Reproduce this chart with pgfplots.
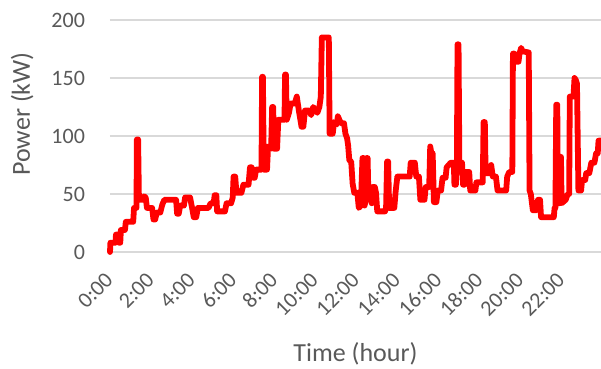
\documentclass[border=0pt]{standalone}
\usepackage{pgfplots}
\pgfplotsset{compat=1.18}
\usepackage{fontspec}
\setmainfont{Carlito}
\definecolor{txt}{HTML}{595959}
\definecolor{gridc}{HTML}{D9D9D9}

\begin{document}
\begin{tikzpicture}
\begin{axis}[
  at={(0,0)}, anchor=south west,
  scale only axis,
  width=245.5pt, height=116pt,
  xmin=0, xmax=23.92,
  ymin=0, ymax=200,
  ytick={0,50,100,150,200},
  xtick={0,2,...,22},
  xticklabels={0:00,2:00,4:00,6:00,8:00,10:00,12:00,14:00,16:00,18:00,20:00,22:00},
  /pgf/number format/assume math mode=true,
  axis line style={draw=none},
  major tick length=0pt,
  ymajorgrids,
  grid style={color=gridc, line width=0.8pt},
  tick label style={font=\fontsize{11}{13}\selectfont, text=txt},
  yticklabel style={anchor=east, xshift=-9pt},
  xticklabel style={xshift=-3pt, yshift=-5pt, rotate=45, anchor=north east, inner sep=1pt},
  xticklabel shift=3pt,
  label style={font=\fontsize{13}{15}\selectfont, text=txt},
  xlabel={Time (hour)},
  ylabel={Power (kW)},
  xlabel style={at={(axis description cs:0.5,-0.44)}, anchor=center},
  ylabel style={at={(axis description cs:-0.179,0.595)}, anchor=center, rotate=0},
  clip=false,
]
\addplot[color=red, line width=2.9pt, line join=round, line cap=round] coordinates {
(0,0) (0.02,8) (0.27,8) (0.29,15) (0.4,15) (0.44,8) (0.5,8) (0.53,19) (0.73,19)
(0.77,26) (1.13,26) (1.17,38) (1.29,38) (1.31,97) (1.37,97) (1.41,45) (1.6,45)
(1.66,48) (1.74,47) (1.8,38) (2.05,38) (2.12,28) (2.2,28) (2.28,34) (2.45,34)
(2.55,41) (2.65,45) (3.22,45) (3.27,33) (3.35,33) (3.42,40) (3.6,40) (3.66,47)
(3.9,47) (4.0,38) (4.08,30) (4.2,30) (4.28,38) (4.8,38) (4.9,42) (5.05,42)
(5.1,49) (5.18,49) (5.22,35) (5.6,35) (5.68,42) (5.9,42) (5.98,47) (6.02,65)
(6.1,65) (6.16,51) (6.4,51) (6.5,58) (6.75,58) (6.82,73) (6.9,73) (6.98,64)
(7.05,64) (7.12,71) (7.38,71) (7.41,151) (7.45,151) (7.49,71) (7.65,71)
(7.7,91) (7.85,89) (7.9,125) (7.95,125) (7.99,89) (8.14,89) (8.2,114) (8.5,114)
(8.53,153) (8.57,153) (8.61,114) (8.72,120) (8.8,128) (9.0,128) (9.1,134)
(9.2,122) (9.33,108) (9.42,108) (9.5,122) (9.7,122) (9.8,118) (9.9,125)
(10.1,120) (10.2,125) (10.27,134) (10.32,185) (10.66,185) (10.7,102) (10.85,102)
(10.92,112) (11.05,110) (11.1,117) (11.25,111) (11.4,111) (11.47,102) (11.55,98)
(11.6,92) (11.66,79) (11.75,78) (11.82,59) (11.9,51) (12.05,51) (12.12,38)
(12.22,40) (12.3,81) (12.36,81) (12.4,40) (12.47,45) (12.5,81) (12.55,81)
(12.58,56) (12.7,56) (12.75,42) (12.8,56) (12.9,56) (12.96,51) (13.02,35)
(13.4,35) (13.45,38) (13.5,78) (13.55,78) (13.6,38) (13.85,38) (13.92,53)
(14.0,65) (14.6,65) (14.65,77) (14.85,77) (14.92,65) (15.05,65) (15.12,45)
(15.32,45) (15.38,56) (15.55,56) (15.6,91) (15.66,85) (15.72,85) (15.78,43)
(15.9,43) (15.97,53) (16.13,53) (16.2,64) (16.35,64) (16.4,73) (16.6,77)
(16.75,77) (16.78,58) (16.85,58) (16.9,77) (16.93,179) (16.98,179) (17.02,77)
(17.15,77) (17.2,58) (17.27,58) (17.32,69) (17.5,69) (17.55,53) (17.8,53)
(17.85,60) (18.16,60) (18.2,112) (18.26,112) (18.3,68) (18.5,68) (18.57,75)
(18.65,65) (18.8,65) (18.88,53) (19.3,53) (19.35,65) (19.45,69) (19.6,69)
(19.63,171) (19.7,171) (19.75,164) (19.9,164) (19.95,171) (20.03,176)
(20.1,173) (20.4,172) (20.44,53) (20.5,50) (20.6,36) (20.76,36) (20.85,45)
(20.95,45) (21.0,30) (21.62,30) (21.66,38) (21.7,38) (21.74,127) (21.79,127)
(21.82,42) (21.9,42) (21.94,82) (21.97,82) (22.0,42) (22.2,45) (22.3,50)
(22.37,50) (22.4,134) (22.58,134) (22.63,150) (22.7,148) (22.75,145)
(22.82,53) (22.95,53) (23.0,62) (23.15,62) (23.2,68) (23.35,68) (23.45,77)
(23.6,77) (23.68,85) (23.76,85) (23.8,96) (23.92,96)
};
\end{axis}
\pgfresetboundingbox
\path (-55pt,-58.5pt) rectangle (245.5pt,126pt);
\end{tikzpicture}
\end{document}
